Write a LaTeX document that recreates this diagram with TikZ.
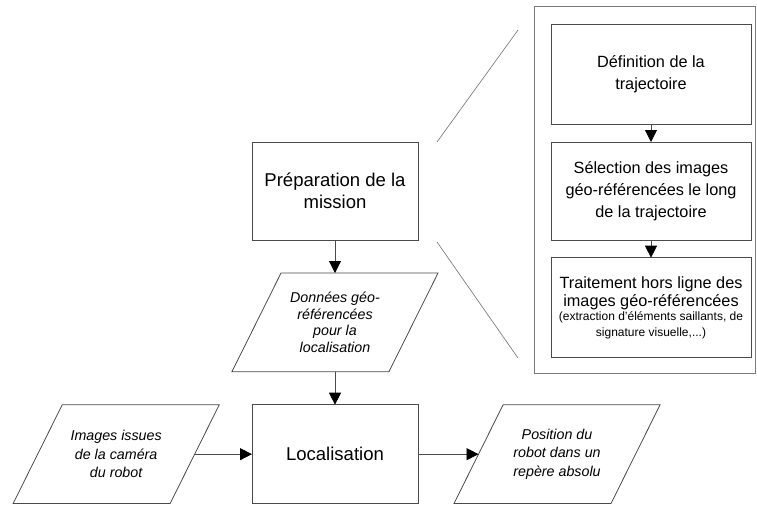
\documentclass[tikz,border=0pt]{standalone}
\usepackage{fontspec}
\setmainfont{Liberation Sans}
\usepackage{xcolor}
\usetikzlibrary{positioning,arrows.meta}
\definecolor{boxgray}{HTML}{4A4A4A}
\definecolor{framegray}{HTML}{7A7A7A}

\begin{document}
\begin{tikzpicture}[
        x = 0.75pt, y = -0.75pt,
        flow/.style = {draw=boxgray, line width=0.6pt, -{Triangle[length=9pt, width=9pt, color=black]}},
        zoomline/.style = {draw=framegray, line width=0.5pt},
    ]
    \tikzstyle{procbox} = [rectangle, draw=boxgray, line width=0.6pt, inner sep=0pt, outer sep=0pt, align=center];
    \tikzstyle{databox} = [rectangle, inner sep=0pt, outer sep=0pt, align=center,
        minimum width=117.75pt, minimum height=74pt, font=\fontsize{10.7}{12.5}\selectfont\itshape];
    \useasboundingbox (0,0) rectangle (757,507);
    % cadre du detail
    \draw [framegray, line width=0.6pt] (534,6) rectangle (755,373);
    \node [procbox, minimum width=150pt, minimum height=75pt, font=\fontsize{12.2}{16.3}\selectfont] (def) at (651,74) {Définition de la\\trajectoire};
    \node [procbox, minimum width=150pt, minimum height=74pt, font=\fontsize{12.2}{16.3}\selectfont, below = 13.5pt of def] (sel) {Sélection des images\\géo-référencées le long\\de la trajectoire};
    \node [procbox, minimum width=150pt, minimum height=75pt, font=\fontsize{12.2}{13.7}\selectfont, below = 12.75pt of sel] (trt) {Traitement hors ligne des\\[-0.5pt]images géo-référencées\\[-3pt]{\fontsize{9}{10}\selectfont (extraction d’éléments saillants, de}\\[-2pt]{\fontsize{9}{10}\selectfont signature visuelle,...)}};
    % chaine principale
    \node [procbox, minimum width=124.5pt, minimum height=73.5pt, font=\fontsize{13.9}{16.3}\selectfont] (prep) at (335,191) {Préparation de la\\mission};
    \node [databox, below = 24.75pt of prep] (geo) {Données géo-\\référencées\\pour la\\localisation};
    \node [procbox, minimum width=124.5pt, minimum height=74.25pt, font=\fontsize{13.9}{16.3}\selectfont, below = 24.75pt of geo] (loc) {Localisation};
    \node [databox, font=\fontsize{10.7}{13.8}\selectfont\itshape, left = 43pt of loc] (cam) {Images issues\\de la caméra\\du robot};
    \node [databox, font=\fontsize{10.7}{13.8}\selectfont\itshape, right = 45.4pt of loc] (pos) {Position du\\robot dans un\\repère absolu};
    % contours des donnees
    \foreach \d in {geo, cam, pos}
        \draw [boxgray, line width=0.6pt] ([xshift=18.4pt]\d.north west) -- ([xshift=18.4pt]\d.north east)
            -- ([xshift=-18.4pt]\d.south east) -- ([xshift=-18.4pt]\d.south west) -- cycle;
    % lignes du zoom
    \coordinate (zA) at (437,142);
    \coordinate (zB) at (518,30);
    \coordinate (zC) at (437,242);
    \coordinate (zD) at (518,358);
    \draw [zoomline] (zA) -- (zB);
    \draw [zoomline] (zC) -- (zD);
    \draw [flow] (def) -- (sel);
    \draw [flow] (sel) -- (trt);
    \draw [flow] (prep) -- (geo);
    \draw [flow] (geo) -- (loc);
    \draw [flow] (cam) -- (loc);
    \draw [flow] (loc) -- (pos);
\end{tikzpicture}
\end{document}
